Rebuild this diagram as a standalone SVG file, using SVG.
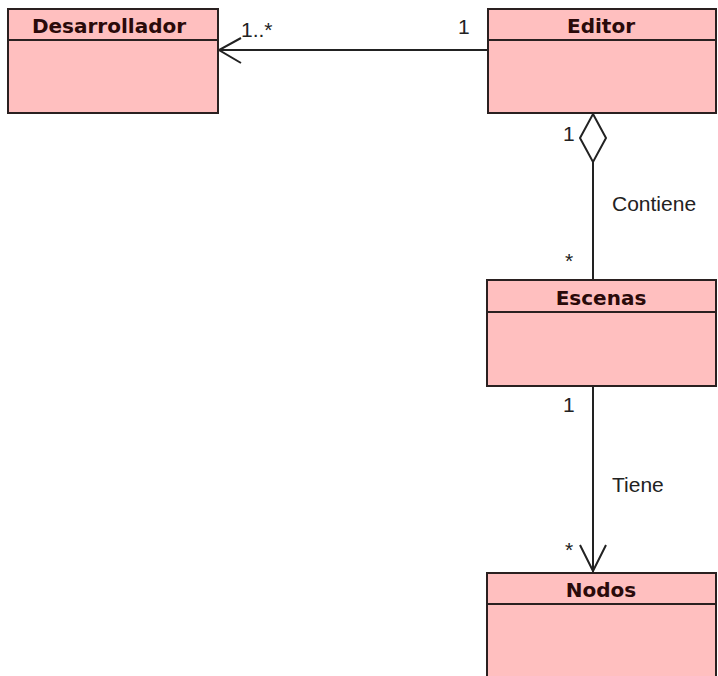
<svg xmlns="http://www.w3.org/2000/svg" width="718" height="676" viewBox="0 0 718 676">
<style>
.box{fill:#FFBFBF;stroke:#2a2020;stroke-width:2}
.div{stroke:#2a2020;stroke-width:2}
.title{font-family:"DejaVu Sans",sans-serif;font-weight:bold;font-size:20px;fill:#2a0a0a;text-anchor:middle}
.lbl{font-family:"Liberation Sans",Arial,sans-serif;font-size:21px;fill:#222}
.ln{stroke:#222;stroke-width:2;fill:none}
</style>
<rect width="718" height="676" fill="#fff"/>
<g id="connectors">
<line class="ln" x1="218" y1="50" x2="488" y2="50"/>
<polyline class="ln" points="241,38 219,50 241,63"/>
<line class="ln" x1="593" y1="162" x2="593" y2="279"/>
<polygon class="ln" fill="#fff" points="593,114 606,138 593,162 580,138"/>
<line class="ln" x1="593" y1="386" x2="593" y2="572"/>
<polyline class="ln" points="580,545 593,571 606,545"/>
<text class="lbl" x="241" y="37">1..*</text>
<text class="lbl" x="458" y="34">1</text>
<text class="lbl" x="563" y="141">1</text>
<text class="lbl" x="612" y="211">Contiene</text>
<text class="lbl" x="565" y="268">*</text>
<text class="lbl" x="563" y="412">1</text>
<text class="lbl" x="612" y="492">Tiene</text>
<text class="lbl" x="565" y="557">*</text>
</g>
<g id="desarrollador">
<rect class="box" x="8" y="9" width="210" height="104"/>
<line class="div" x1="8" y1="40" x2="218" y2="40"/>
<text class="title" x="109" y="33">Desarrollador</text>
</g>
<g id="editor">
<rect class="box" x="488" y="9" width="228" height="104"/>
<line class="div" x1="488" y1="40" x2="716" y2="40"/>
<text class="title" x="601" y="33">Editor</text>
</g>
<g id="escenas">
<rect class="box" x="487" y="280" width="229" height="106"/>
<line class="div" x1="487" y1="312" x2="716" y2="312"/>
<text class="title" x="601" y="305">Escenas</text>
</g>
<g id="nodos">
<rect class="box" x="487" y="573" width="229" height="110"/>
<line class="div" x1="487" y1="604" x2="716" y2="604"/>
<text class="title" x="601" y="597">Nodos</text>
</g>
</svg>
